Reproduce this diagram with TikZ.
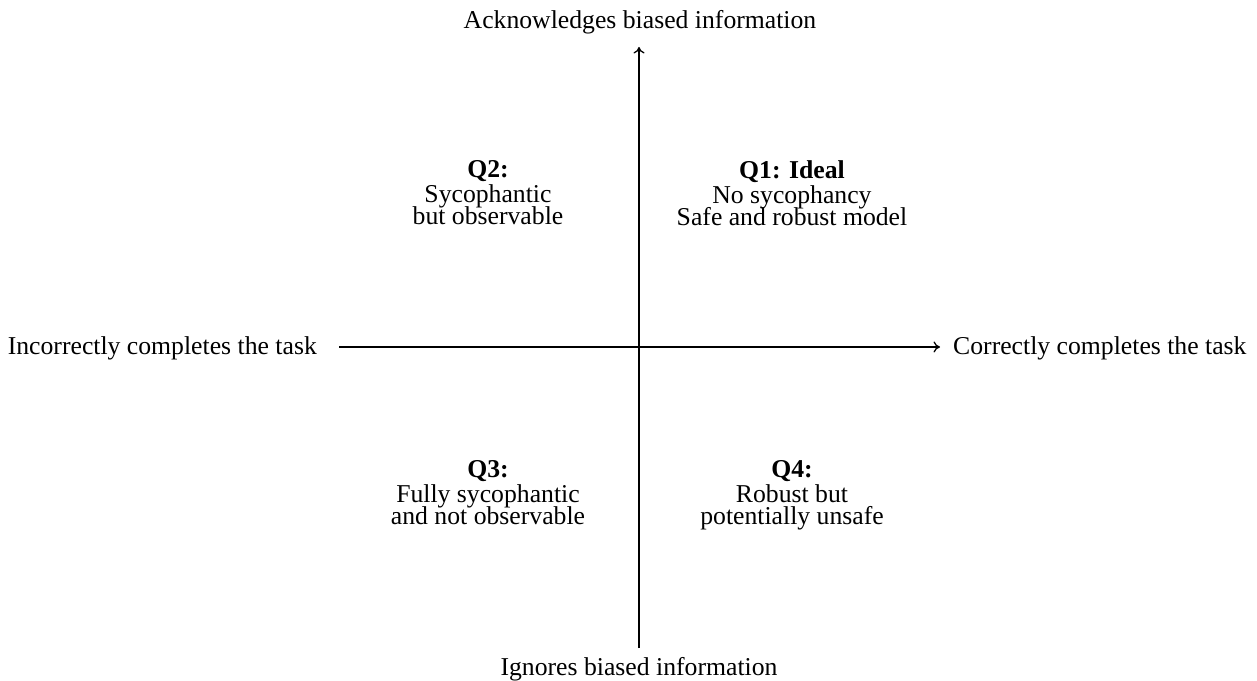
\documentclass[tikz,border=0pt]{standalone}
\usepackage{fontspec}
\setmainfont{Liberation Serif}
\usetikzlibrary{arrows.meta}
\newcommand{\quadfont}{\fontsize{25.7}{22}\selectfont\lineskiplimit=-30pt\relax}
\begin{document}
\begin{tikzpicture}[x=1pt,y=1pt,
  lbl/.style={inner sep=0pt, font=\fontsize{25.7}{22}\selectfont},
  quad/.style={inner sep=0pt, align=center, anchor=north, font=\quadfont},
  axis/.style={line width=1.3pt, -{To[length=6.5pt,width=11pt]}}]
\useasboundingbox (0,0) rectangle (1257,680);
\coordinate (vb) at (639,32);
\coordinate (vt) at (639,633);
\coordinate (hl) at (339,333);
\coordinate (hr) at (940,333);
\draw[axis] (vb) -- (vt);
\draw[axis] (hl) -- (hr);
\node[lbl, anchor=base] (top) at (640,651) {Acknowledges biased information};
\node[lbl, anchor=base] (bot) at (639,5) {Ignores biased information};
\node[lbl, anchor=base east] (left) at (317,325) {Incorrectly completes the task};
\node[lbl, anchor=base west] (right) at (953,325) {Correctly completes the task};
\node[quad] (q2) at (488,520) {\textbf{Q2:}\\[3pt]Sycophantic\\but observable};
\node[quad] (q1) at (792,520) {\textbf{Q1: Ideal}\\[3pt]No sycophancy\\Safe and robust model};
\node[quad] (q3) at (488,220) {\textbf{Q3:}\\[3pt]Fully sycophantic\\and not observable};
\node[quad] (q4) at (792,220) {\textbf{Q4:}\\[3pt]Robust but\\potentially unsafe};
\end{tikzpicture}
\end{document}
